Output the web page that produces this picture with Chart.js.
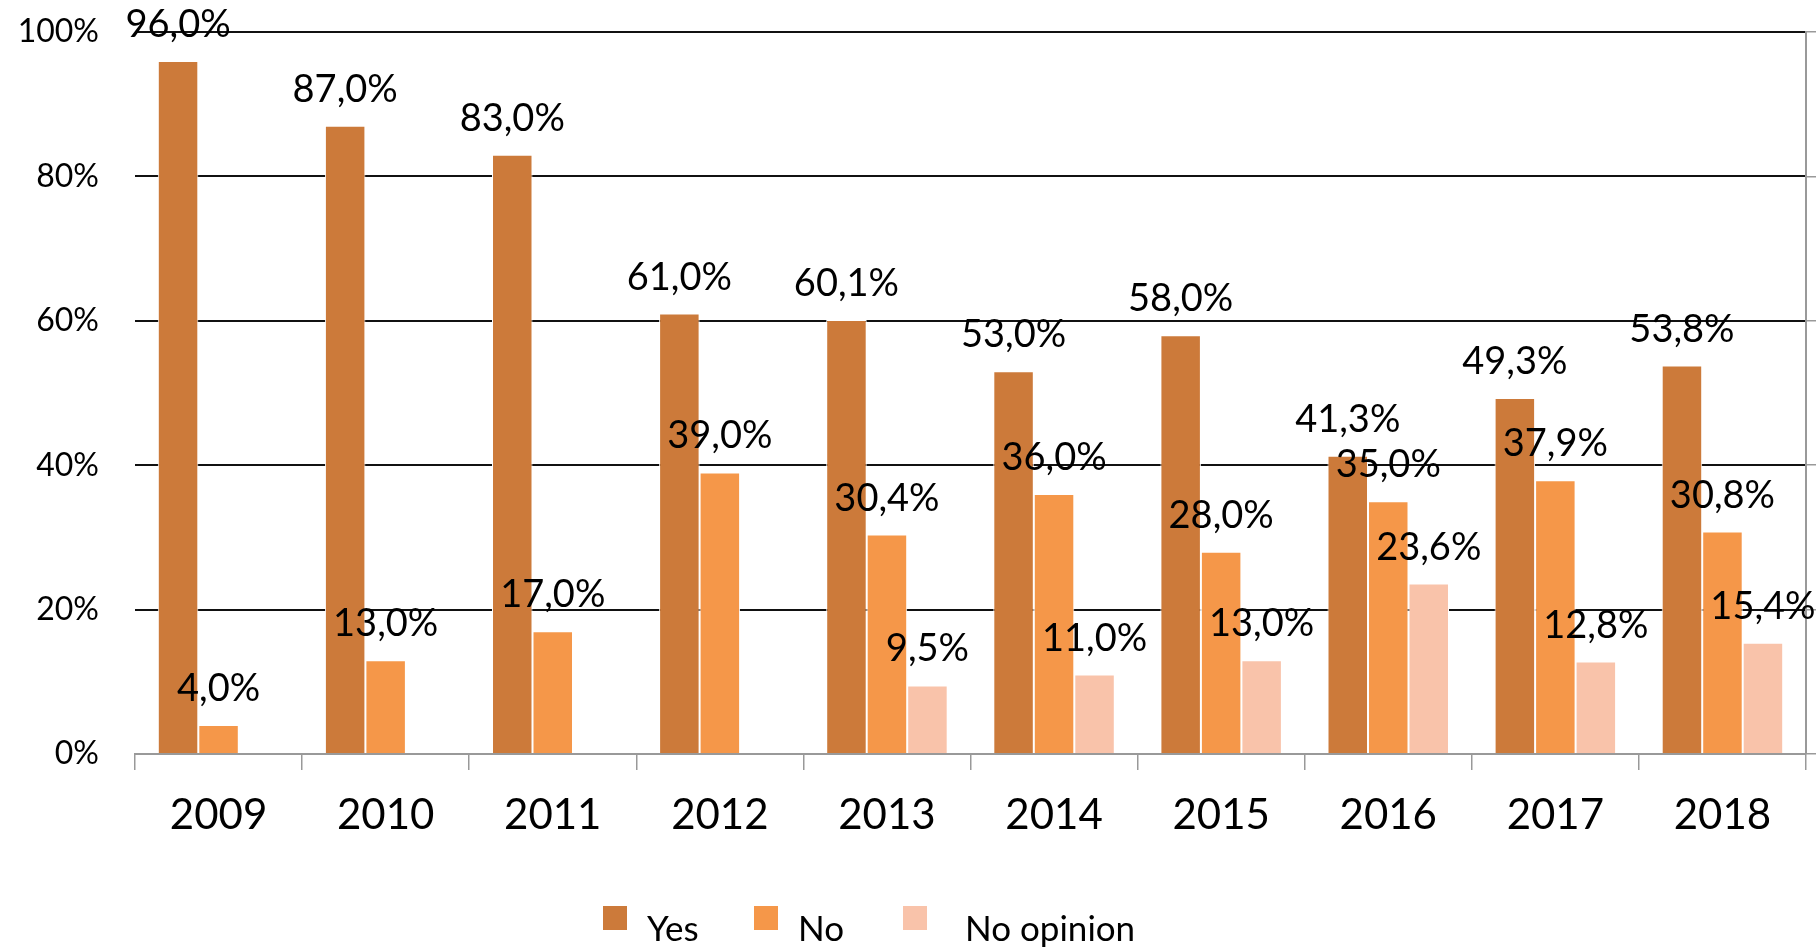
<!DOCTYPE html>
<html>
<head>
<meta charset="utf-8">
<script src="https://cdn.jsdelivr.net/npm/chart.js@4.4.1/dist/chart.umd.min.js"></script>
<style>
  html, body { margin: 0; padding: 0; background: #fff; }
  #wrap { width: 1816px; height: 952px; }
</style>
</head>
<body>
<div id="wrap"><canvas id="chart" width="1816" height="952"></canvas></div>
<script>
// Survey answers per year, in percent
const years = ["2009", "2010", "2011", "2012", "2013", "2014", "2015", "2016", "2017", "2018"];
const yesValues = [96.0, 87.0, 83.0, 61.0, 60.1, 53.0, 58.0, 41.3, 49.3, 53.8];
const noValues = [4.0, 13.0, 17.0, 39.0, 30.4, 36.0, 28.0, 35.0, 37.9, 30.8];
const noOpinionValues = [null, null, null, null, 9.5, 11.0, 13.0, 23.6, 12.8, 15.4];
const seriesNames = ["Yes", "No", "No opinion"];
const seriesColors = ["#CC7A3A", "#F59749", "#F9C3AA"];
const yTickValues = [0, 20, 40, 60, 80, 100];

const fmt = v => v.toFixed(1).replace(".", ",") + "%";

// value labels above each bar
const valueLabels = {
    id: "valueLabels",
    afterDatasetsDraw(chart) {
        const c = chart.ctx;
        c.save();
        c.font = "38px Lato";
        c.fillStyle = "#000";
        c.textAlign = "center";
        c.textBaseline = "alphabetic";
        chart.data.datasets.forEach((ds, i) => {
            chart.getDatasetMeta(i).data.forEach((bar, j) => {
                const v = ds.data[j];
                if (v == null) return;
                c.fillText(fmt(v), bar.x, bar.y - 24);
            });
        });
        c.restore();
    }
};

// legend drawn at the bottom, spaced like the original
const bottomLegend = {
    id: "bottomLegend",
    afterDraw(chart) {
        const c = chart.ctx;
        const spots = [[603, 647], [754, 798], [903, 965]];
        c.save();
        c.font = "35px Lato";
        c.textBaseline = "alphabetic";
        c.textAlign = "left";
        chart.data.datasets.forEach((ds, i) => {
            const [bx, tx] = spots[i];
            c.fillStyle = ds.backgroundColor;
            c.fillRect(bx, 906, 24, 24);
            c.fillStyle = "#000";
            c.fillText(ds.label, tx, 941);
        });
        c.restore();
    }
};

const makeSet = (i, data) => ({
    label: seriesNames[i],
    data: data,
    backgroundColor: seriesColors[i],
    borderColor: "#fff",
    borderWidth: { top: 1, left: 1, right: 1, bottom: 0 },
    borderSkipped: false,
    categoryPercentage: 0.727,
    barPercentage: 1.0
});

Chart.defaults.font.family = "Lato";
Chart.defaults.color = "#000";

new Chart(document.getElementById("chart").getContext("2d"), {
    type: "bar",
    data: {
        labels: years,
        datasets: [makeSet(0, yesValues), makeSet(1, noValues), makeSet(2, noOpinionValues)]
    },
    options: {
        responsive: false,
        animation: false,
        layout: { padding: { top: 32, left: 0, right: 0, bottom: 0 } },
        plugins: {
            legend: { display: false },
            tooltip: { enabled: false }
        },
        scales: {
            x: {
                offset: true,
                grid: { offset: true, drawOnChartArea: false, color: "#999", lineWidth: 1.5, tickLength: 16 },
                border: { color: "#999", width: 2 },
                ticks: { font: { size: 42 }, padding: 20, maxRotation: 0 },
                afterFit(s) { s.height = 198; }
            },
            y: {
                min: yTickValues[0],
                max: yTickValues[yTickValues.length - 1],
                afterBuildTicks(s) { s.ticks = yTickValues.map(v => ({ value: v })); },
                ticks: { callback: v => v + "%", font: { size: 32 }, padding: 4 },
                grid: {
                    color: c => (c.tick && c.tick.value === 0) ? "rgba(0,0,0,0)" : "#111",
                    lineWidth: 2,
                    drawTicks: true,
                    tickLength: 32,
                    tickColor: "rgba(0,0,0,0)"
                },
                border: { display: false },
                afterFit(s) { s.width = 135; }
            },
            y2: {
                position: "right",
                min: yTickValues[0],
                max: yTickValues[yTickValues.length - 1],
                afterBuildTicks(s) { s.ticks = yTickValues.map(v => ({ value: v })); },
                ticks: { display: false },
                grid: { drawOnChartArea: false, color: "#999", lineWidth: 1.5, tickLength: 10 },
                border: { color: "#999", width: 2 },
                afterFit(s) { s.width = 10; }
            }
        }
    },
    plugins: [valueLabels, bottomLegend]
});
</script>
</body>
</html>
